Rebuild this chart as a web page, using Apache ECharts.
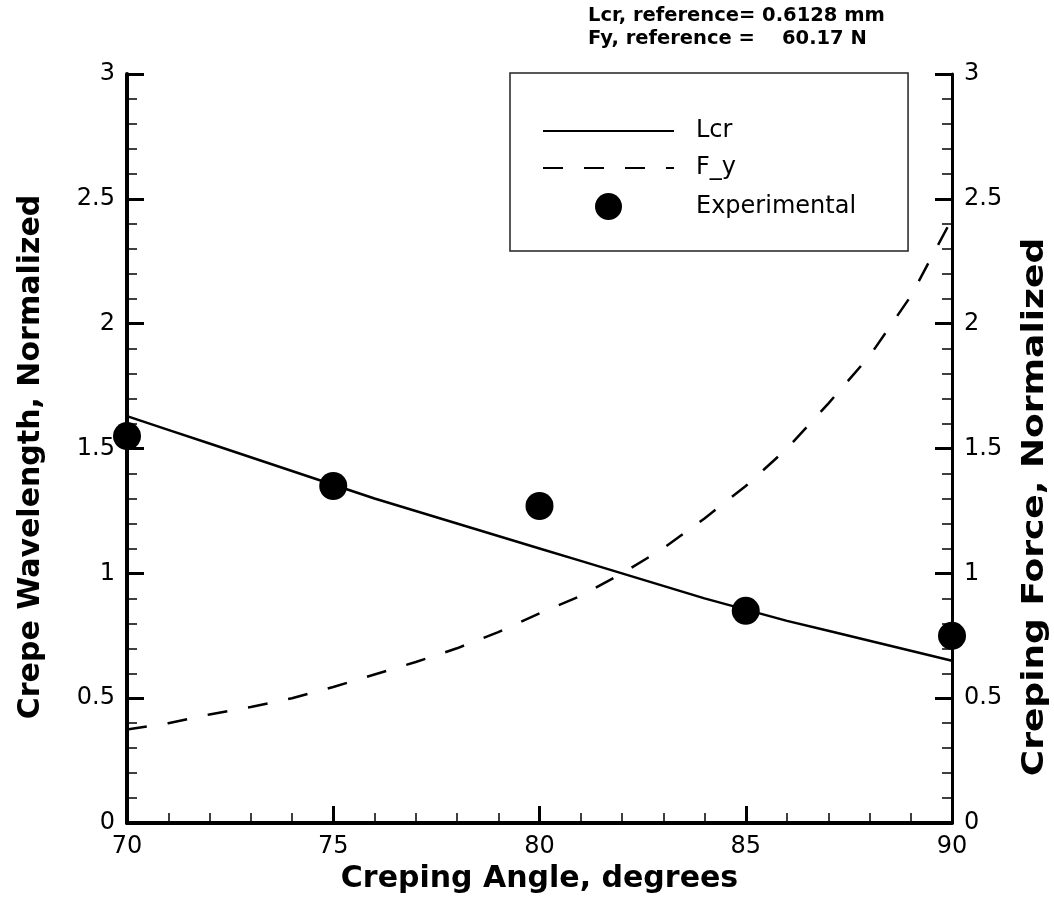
<!DOCTYPE html>
<html><head><meta charset="utf-8">
<script src="https://cdn.jsdelivr.net/npm/echarts@6/dist/echarts.min.js"></script>
<style>html,body{margin:0;padding:0;background:#fff}#c{width:1054px;height:899px}</style>
</head><body><div id="c"></div>
<script>
const angles = [70,71,72,73,74,75,76,77,78,79,80,81,82,83,84,85,86,87,88,89,90];
const lcrValues = [1.63,1.575,1.52,1.465,1.41,1.355,1.30,1.25,1.20,1.15,1.10,1.05,1.00,0.95,0.90,0.855,0.81,0.77,0.73,0.69,0.65];
const fyValues = [0.375,0.40,0.435,0.465,0.50,0.545,0.595,0.645,0.70,0.765,0.84,0.91,1.00,1.10,1.22,1.35,1.50,1.68,1.87,2.11,2.42];
const expAngles = [70,75,80,85,90];
const expValues = [1.55,1.35,1.27,0.85,0.75];
const seriesNames = ['Lcr','F_y','Experimental'];
const xTitle = 'Creping Angle, degrees';
const yLeftTitle = 'Crepe Wavelength, Normalized';
const yRightTitle = 'Creping Force, Normalized';
const note1 = 'Lcr, reference= 0.6128 mm';
const note2 = 'Fy, reference =    60.17 N';

const FONT = '"DejaVu Sans", "Liberation Sans", Arial, sans-serif';
const chart = echarts.init(document.getElementById('c'), null, {renderer:'canvas'});

function yAxisCfg(pos, lineW) {
  return {
    type: 'value', position: pos, min: 0, max: 3, interval: 0.5,
    axisLine: {show: true, onZero: false, lineStyle: {color: '#000', width: lineW}},
    axisTick: {show: true, inside: true, length: 17, lineStyle: {color: '#000', width: 3}},
    minorTick: {show: true, splitNumber: 5, length: 10, lineStyle: {color: '#000', width: 1.5}},
    splitLine: {show: false},
    axisLabel: {color: '#000', fontSize: 24, fontFamily: FONT, margin: 12}
  };
}

const yl = yAxisCfg('left', 4);
const yr = yAxisCfg('right', 3);

const hiddenSymbol = {color: 'rgba(0,0,0,0)', borderWidth: 0, opacity: 0};
const titleFont = 'bold 30px ' + FONT;

chart.setOption({
  animation: false,
  backgroundColor: '#fff',
  grid: {left: 127, right: 102, top: 74, bottom: 71, containLabel: false},
  xAxis: {
    type: 'value', min: 70, max: 90, interval: 5,
    name: xTitle, nameLocation: 'middle', nameGap: 30,
    nameTextStyle: {color: '#000', fontSize: 30, fontWeight: 'bold', fontFamily: FONT},
    axisLine: {show: true, onZero: false, lineStyle: {color: '#000', width: 4}},
    axisTick: {show: true, inside: true, length: 17, lineStyle: {color: '#000', width: 3}},
    minorTick: {show: true, splitNumber: 5, length: 10, lineStyle: {color: '#000', width: 1.5}},
    splitLine: {show: false},
    axisLabel: {color: '#000', fontSize: 24, fontFamily: FONT, margin: 12}
  },
  yAxis: [yl, yr],
  legend: {
    data: [
      {name: seriesNames[0], itemStyle: hiddenSymbol},
      {name: seriesNames[1], itemStyle: hiddenSymbol},
      {name: seriesNames[2]}
    ],
    orient: 'vertical', left: 510, top: 73,
    padding: [46, 52, 31, 32], itemWidth: 131, itemHeight: 27, itemGap: 13,
    borderColor: '#222', borderWidth: 1.5, backgroundColor: '#fff',
    textStyle: {color: '#000', fontSize: 24, fontFamily: FONT, padding: [0,0,0,17]}
  },
  graphic: [
    {type: 'text', left: 588, top: 6, style: {text: note1, font: 'bold 19.5px ' + FONT, fill: '#000'}},
    {type: 'text', left: 588, top: 29, style: {text: note2, font: 'bold 19.5px ' + FONT, fill: '#000'}},
    {type: 'text', x: 31, y: 457, rotation: Math.PI / 2,
     style: {text: yLeftTitle, font: titleFont, fill: '#000', align: 'center', verticalAlign: 'middle', textAlign: 'center', textVerticalAlign: 'middle'}},
    {type: 'text', x: 1035, y: 507, rotation: Math.PI / 2, scaleX: 1.2,
     style: {text: yRightTitle, font: titleFont, fill: '#000', align: 'center', verticalAlign: 'middle', textAlign: 'center', textVerticalAlign: 'middle'}}
  ],
  series: [
    {name: seriesNames[0], type: 'line', yAxisIndex: 0, symbol: 'none', smooth: false,
     lineStyle: {color: '#000', width: 2.5}, itemStyle: {color: '#000'},
     data: angles.map((a, i) => [a, lcrValues[i]])},
    {name: seriesNames[1], type: 'line', yAxisIndex: 1, symbol: 'none', smooth: false,
     lineStyle: {color: '#000', width: 2.5, type: [20, 21]}, itemStyle: {color: '#000'},
     data: angles.map((a, i) => [a, fyValues[i]])},
    {name: seriesNames[2], type: 'scatter', yAxisIndex: 0, symbol: 'circle', symbolSize: 28, clip: false,
     itemStyle: {color: '#000', opacity: 1}, z: 5,
     data: expAngles.map((a, i) => [a, expValues[i]])}
  ]
});
</script></body></html>
